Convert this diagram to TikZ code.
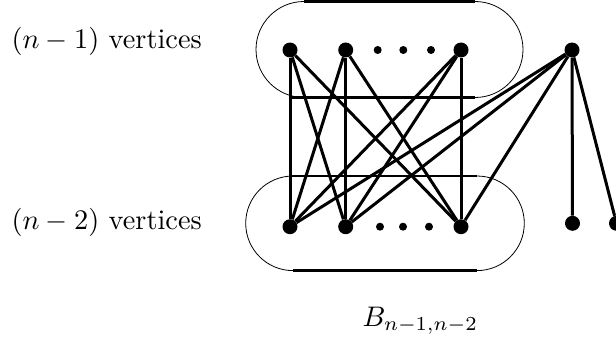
\documentclass[tikz,border=0pt]{standalone}
\usepackage{amsmath}
\begin{document}
\begin{tikzpicture}[x=10pt, y=-10pt,
    vertex/.style={circle, fill, inner sep=0pt, minimum size=15pt},
    smalldot/.style={circle, fill, inner sep=0pt, minimum size=8pt},
    edge/.style={line width=3pt},
    rim/.style={line width=2.5pt},
    thinarc/.style={line width=0.8pt},
    label/.style={anchor=base west, inner sep=0pt, scale=2.83}]
  \useasboundingbox (0, 0) rectangle (61.6, 34.5);

  % Upper set: rim of the stadium
  \draw[rim] (30.4, 0.15) -- (47.5, 0.15);
  \draw[rim] (29, 9.75) -- (47.5, 9.75);
  \draw[thinarc] (30.4, 0.15) arc[start angle=-90, end angle=-270, radius=4.8];
  \draw[thinarc] (47.5, 0.15) arc[start angle=-90, end angle=90, radius=4.8];

  % Lower set: rim of the stadium
  \draw[rim] (29, 17.6) -- (47.7, 17.6);
  \draw[rim] (29.3, 27.06) -- (47.7, 27.06);
  \draw[thinarc] (29.3, 17.6) arc[start angle=-90, end angle=-270, radius=4.73];
  \draw[thinarc] (47.7, 17.6) arc[start angle=-90, end angle=90, radius=4.73];

  % Upper vertices
  \node[vertex] (t1) at (29, 5) {};
  \node[vertex] (t2) at (34.57, 5) {};
  \node[vertex] (t3) at (46.1, 5) {};
  \node[vertex] (r) at (57.2, 5) {};
  \node[smalldot] (td1) at (37.77, 5) {};
  \node[smalldot] (td2) at (40.33, 5) {};
  \node[smalldot] (td3) at (43.1, 5) {};

  % Lower vertices
  \node[vertex] (b1) at (29, 22.67) {};
  \node[vertex] (b2) at (34.57, 22.67) {};
  \node[vertex] (b3) at (46.1, 22.67) {};
  \node[vertex] (s1) at (57.25, 22.33) {};
  \node[vertex] (s2) at (61.65, 22.33) {};
  \node[smalldot] (bd1) at (38, 22.67) {};
  \node[smalldot] (bd2) at (40.3, 22.67) {};
  \node[smalldot] (bd3) at (42.9, 22.67) {};

  % Edges between the two sets
  \draw[edge] (t1) -- (b1);
  \draw[edge] (t1) -- (b2);
  \draw[edge] (t1) -- (b3);
  \draw[edge] (t2) -- (b1);
  \draw[edge] (t2) -- (b2);
  \draw[edge] (t2) -- (b3);
  \draw[edge] (t3) -- (b1);
  \draw[edge] (t3) -- (b2);
  \draw[edge] (t3) -- (b3);

  % Extra vertex
  \draw[edge] (r) -- (b1);
  \draw[edge] (r) -- (b2);
  \draw[edge] (r) -- (b3);
  \draw[edge] (r) -- (s1);
  \draw[edge] (r) -- (s2);

  % Labels
  \node[label] (upper) at (1.1, 4.9) {$(n-1)$\ vertices};
  \node[label] (lower) at (1.1, 22.9) {$(n-2)$\ vertices};
  \node[label] (name) at (36.2, 32.6) {$B_{n-1,n-2}$};
\end{tikzpicture}
\end{document}
